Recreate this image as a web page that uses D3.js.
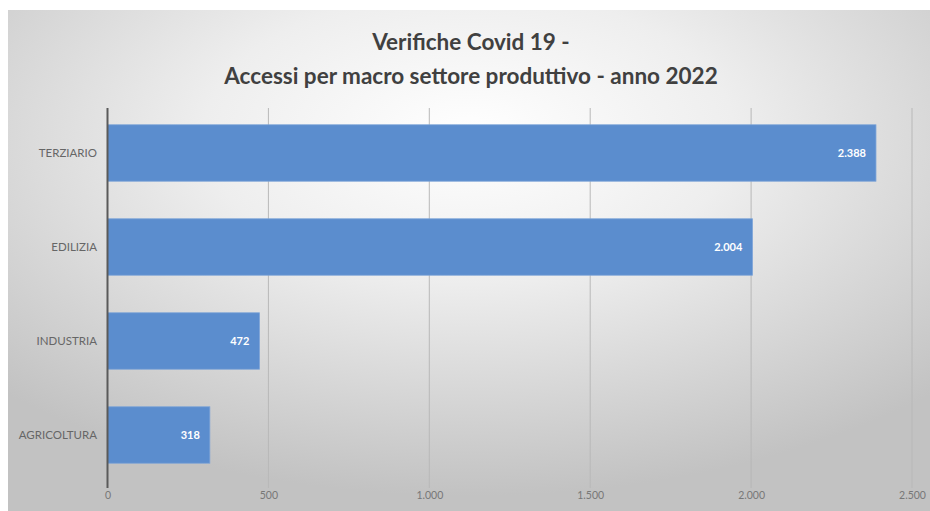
<!DOCTYPE html>
<html><head><meta charset="utf-8">
<script src="https://cdn.jsdelivr.net/npm/d3@7"></script>
<style>body{margin:0;background:#fff}svg{display:block}</style>
</head><body>
<svg id="c" width="930" height="511"></svg>
<script>
const categories = ["TERZIARIO","EDILIZIA","INDUSTRIA","AGRICOLTURA"];
const values = [2388, 2004, 472, 318];
const valueLabels = ["2.388","2.004","472","318"];
const tickValues = [0,500,1000,1500,2000,2500];
const tickLabels = ["0","500","1.000","1.500","2.000","2.500"];
const titleLines = ["Verifiche Covid 19 -","Accessi per macro settore produttivo - anno 2022"];

const svg = d3.select("#c");
const defs = svg.append("defs");
const rg = defs.append("radialGradient").attr("id","bg")
  .attr("cx","50%").attr("cy","25%").attr("r","72%");
rg.append("stop").attr("offset","0%").attr("stop-color","#ffffff");
rg.append("stop").attr("offset","40%").attr("stop-color","#eeeeee");
rg.append("stop").attr("offset","100%").attr("stop-color","#c2c2c2");
svg.append("rect").attr("x",8).attr("y",10).attr("width",922).attr("height",501).attr("fill","url(#bg)");

const x = d3.scaleLinear().domain([0,2500]).range([107.5,912]);
const y = d3.scaleBand().domain(categories).range([106,482]).paddingInner(0.4).paddingOuter(0.2);

// gridlines
svg.append("g").selectAll("line").data(tickValues.slice(1)).join("line")
  .attr("x1",d=>x(d)).attr("x2",d=>x(d)).attr("y1",108).attr("y2",488)
  .attr("stroke","#b8b8b8").attr("stroke-width",1);

// bars
svg.append("g").selectAll("rect").data(values).join("rect")
  .attr("x",x(0)).attr("y",(d,i)=>y(categories[i]))
  .attr("width",d=>x(d)-x(0)).attr("height",y.bandwidth())
  .attr("fill","#5b8dce").attr("stroke","#7aa2d8").attr("stroke-width",0.8);

// value labels
svg.append("g").selectAll("text").data(values).join("text")
  .attr("x",d=>x(d)-10).attr("y",(d,i)=>y(categories[i])+y.bandwidth()/2)
  .attr("dy","0.35em").attr("text-anchor","end")
  .attr("font-family","Lato, 'Open Sans', sans-serif").attr("font-weight","bold")
  .attr("font-size",11).attr("fill","#ffffff")
  .text((d,i)=>valueLabels[i]);

// y axis line
svg.append("line").attr("x1",x(0)).attr("x2",x(0)).attr("y1",108).attr("y2",488)
  .attr("stroke","#5a5a5a").attr("stroke-width",2);

// category labels
svg.append("g").selectAll("text").data(categories).join("text")
  .attr("x",97).attr("y",d=>y(d)+y.bandwidth()/2).attr("dy","0.35em")
  .attr("text-anchor","end").attr("font-family","Lato, 'Open Sans', sans-serif")
  .attr("font-size",11.5).attr("fill","#666").text(d=>d);

// x tick labels
const xAxis = d3.axisBottom(x).tickValues(tickValues).tickSize(0).tickPadding(0)
  .tickFormat((d,i)=>tickLabels[i]);
const gx = svg.append("g").attr("transform","translate(0,492)").call(xAxis);
gx.select(".domain").remove();
gx.selectAll("text").attr("font-family","Lato, 'Open Sans', sans-serif")
  .attr("font-size",10.5).attr("fill","#777").attr("dy","0.71em");

// title
svg.append("g").selectAll("text").data(titleLines).join("text")
  .attr("x",471).attr("y",(d,i)=>50+i*34).attr("text-anchor","middle")
  .attr("font-family","Lato, 'Open Sans', sans-serif").attr("font-weight","bold")
  .attr("font-size",22.5).attr("fill","#404040").text(d=>d);
</script>
</body></html>
